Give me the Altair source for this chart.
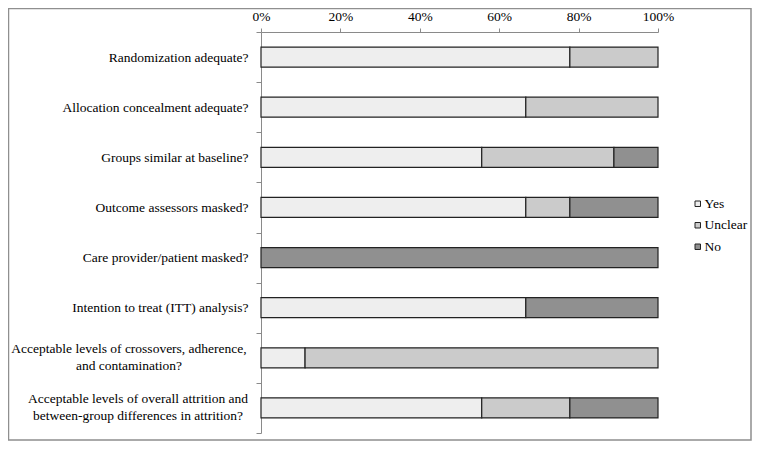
import altair as alt
import pandas as pd

categories = [
    "Randomization adequate?",
    "Allocation concealment adequate?",
    "Groups similar at baseline?",
    "Outcome assessors masked?",
    "Care provider/patient masked?",
    "Intention to treat (ITT) analysis?",
    "Acceptable levels of crossovers, adherence,|and contamination?",
    "Acceptable levels of overall attrition and|between-group differences in attrition?",
]
yes_vals = [77.8, 66.7, 55.6, 66.7, 0.0, 66.7, 11.1, 55.6]
unclear_vals = [22.2, 33.3, 33.3, 11.1, 0.0, 0.0, 88.9, 22.2]
no_vals = [0.0, 0.0, 11.1, 22.2, 100.0, 33.3, 0.0, 22.2]
series = ["Yes", "Unclear", "No"]
colors = ["#eeeeee", "#cbcbcb", "#909090"]
x_ticks = [0, 20, 40, 60, 80, 100]

rows = []
for c, y, u, n in zip(categories, yes_vals, unclear_vals, no_vals):
    for i, (s, v) in enumerate(zip(series, [y, u, n])):
        if v > 0:
            rows.append({"cat": c, "resp": s, "val": v, "ord": i})
df = pd.DataFrame(rows)
cat_df = pd.DataFrame({"cat": categories})

FONT = "Liberation Serif"
FS = 13.5

y_enc = alt.Y(
    "cat:N",
    sort=categories,
    scale=alt.Scale(paddingInner=0, paddingOuter=0),
    axis=alt.Axis(
        title=None, tickBand="extent", domainColor="#8a8a8a", tickColor="#8a8a8a",
        tickSize=5, labelFont=FONT, labelFontSize=FS, labelColor="#000000",
        labelExpr="indexof(datum.label, '|') >= 0 ? '' : datum.label", labelLimit=400,
        labelPadding=8,
    ),
)

bars = alt.Chart(df).mark_bar(height=20, stroke="#222222", strokeWidth=1.2).encode(
    x=alt.X(
        "val:Q",
        stack="zero",
        scale=alt.Scale(domain=[0, 100], nice=False),
        axis=alt.Axis(
            orient="top", values=x_ticks, labelExpr="datum.value + '%'", title=None,
            grid=False, domainColor="#8a8a8a", tickColor="#8a8a8a", tickSize=4,
            labelPadding=5, labelFlush=False, labelFont=FONT, labelFontSize=FS,
            labelColor="#000000",
        ),
    ),
    y=y_enc,
    color=alt.Color(
        "resp:N",
        scale=alt.Scale(domain=series, range=colors),
        legend=alt.Legend(
            title=None, orient="none", legendX=430, legendY=165, symbolType="square",
            symbolSize=30, symbolStrokeColor="#222222", symbolStrokeWidth=1,
            labelFont=FONT, labelFontSize=FS, labelColor="#000000", rowPadding=6.5,
            labelOffset=0,
        ),
    ),
    order=alt.Order("ord:Q"),
)


def multiline_label(cat_name, x_center):
    return alt.Chart(cat_df).transform_filter(
        alt.datum.cat == cat_name
    ).transform_calculate(
        lines="split(datum.cat, '|')"
    ).mark_text(
        font=FONT, fontSize=FS, color="#000000", align="center", baseline="middle",
        lineHeight=17, dy=-8.5,
    ).encode(
        y=alt.Y("cat:N", sort=categories),
        x=alt.value(x_center),
        text=alt.Text("lines:N"),
    )


lab_cross = multiline_label(categories[6], -132)
lab_attr = multiline_label(categories[7], -123)

frame = alt.Chart(pd.DataFrame({"a": [0]})).mark_rect(
    fill="#ffffff", fillOpacity=0, stroke="#8f8f8f", strokeWidth=1.5
).encode(
    x=alt.value(-252.5), x2=alt.value(490), y=alt.value(-23.5), y2=alt.value(408)
)

chart = alt.layer(frame, bars, lab_cross, lab_attr).properties(
    width=397, height=401,
    autosize=alt.AutoSizeParams(type="none"),
    padding={"left": 253, "top": 24, "right": 94, "bottom": 8},
).configure_view(stroke=None)

chart.save("out.html", embed_options={"renderer": "svg", "actions": False})
